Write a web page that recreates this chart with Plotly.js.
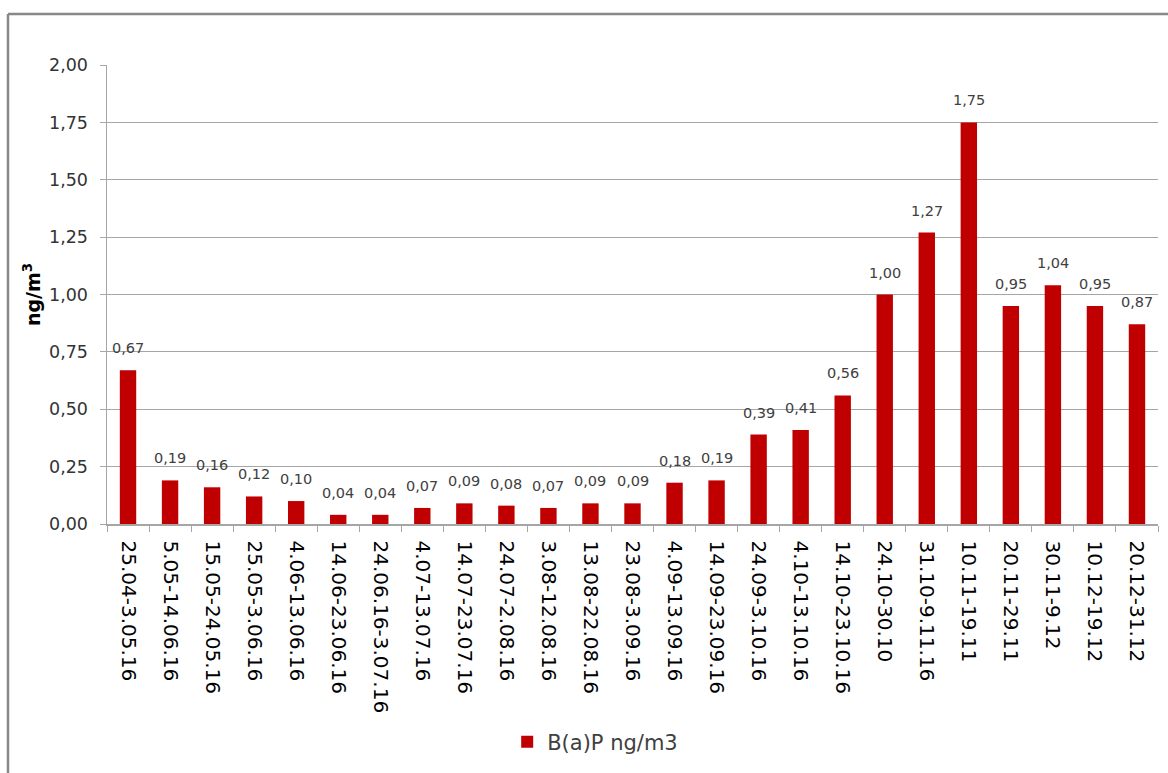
<!DOCTYPE html>
<html>
<head>
<meta charset="utf-8">
<script src="https://cdn.plot.ly/plotly-3.0.1.min.js"></script>
<style>html,body{margin:0;padding:0;background:#fff;}#chart{width:1168px;height:773px;}</style>
</head>
<body>
<div id="chart"></div>
<script>
const categories = ["25.04-3.05.16","5.05-14.06.16","15.05-24.05.16","25.05-3.06.16","4.06-13.06.16","14.06-23.06.16","24.06.16-3.07.16","4.07-13.07.16","14.07-23.07.16","24.07-2.08.16","3.08-12.08.16","13.08-22.08.16","23.08-3.09.16","4.09-13.09.16","14.09-23.09.16","24.09-3.10.16","4.10-13.10.16","14.10-23.10.16","24.10-30.10","31.10-9.11.16","10.11-19.11","20.11-29.11","30.11-9.12","10.12-19.12","20.12-31.12"];
const values = [0.67,0.19,0.16,0.12,0.10,0.04,0.04,0.07,0.09,0.08,0.07,0.09,0.09,0.18,0.19,0.39,0.41,0.56,1.00,1.27,1.75,0.95,1.04,0.95,0.87];
const seriesName = "B(a)P ng/m3";
const yTitle = "ng/m<sup>3</sup>";

const trace = {
  type: "bar",
  x: categories,
  y: values,
  name: seriesName,
  marker: {color: "#C00000"},
  hoverinfo: "x+y"
};

const annotations = categories.map((c, i) => ({
  x: c, y: values[i], xref: "x", yref: "y",
  text: values[i].toFixed(2).replace(".", ","),
  showarrow: false, yanchor: "bottom", yshift: 12,
  font: {family: "DejaVu Sans", size: 14.5, color: "#404040"}
}));

const layout = {
  width: 1168, height: 773,
  margin: {l: 107, r: 10, t: 65, b: 249},
  paper_bgcolor: "#fff", plot_bgcolor: "#fff",
  separators: ", ",
  bargap: 0.61,
  showlegend: true,
  legend: {orientation: "h", x: 0.4645, xanchor: "center", y: -0.475, yanchor: "middle",
           font: {family: "DejaVu Sans", size: 21, color: "#404040"}},
  xaxis: {
    type: "category", tickangle: 90,
    tickfont: {family: "DejaVu Sans", size: 20, color: "#000"},
    showline: true, linecolor: "#a6a6a6", linewidth: 1.5,
    ticks: "outside", ticklen: 6, tickcolor: "#a6a6a6", tickson: "boundaries",
    ticklabelstandoff: 11,
    showgrid: false, automargin: false
  },
  yaxis: {
    range: [0, 2], dtick: 0.25, tickformat: ".2f",
    tickfont: {family: "DejaVu Sans", size: 17.5, color: "#333"},
    showline: true, linecolor: "#a6a6a6", linewidth: 1.5,
    ticks: "outside", ticklen: 6, tickcolor: "#a6a6a6",
    ticklabelstandoff: 8,
    gridcolor: "#a6a6a6", gridwidth: 1.2, zeroline: false,
    title: {text: yTitle, font: {family: "DejaVu Sans", size: 19, color: "#000", weight: "bold"}, standoff: 3},
    automargin: false
  },
  annotations: annotations,
  shapes: [
    {type: "line", xref: "paper", yref: "paper", x0: -0.0942, x1: -0.0942, y0: 1.111, y1: -0.6, line: {color: "#888", width: 2.5}},
    {type: "line", xref: "paper", yref: "paper", x0: -0.0942, x1: 1.02, y0: 1.111, y1: 1.111, line: {color: "#888", width: 2.5}}
  ]
};

Plotly.newPlot("chart", [trace], layout, {displayModeBar: false, staticPlot: true});
</script>
</body>
</html>
